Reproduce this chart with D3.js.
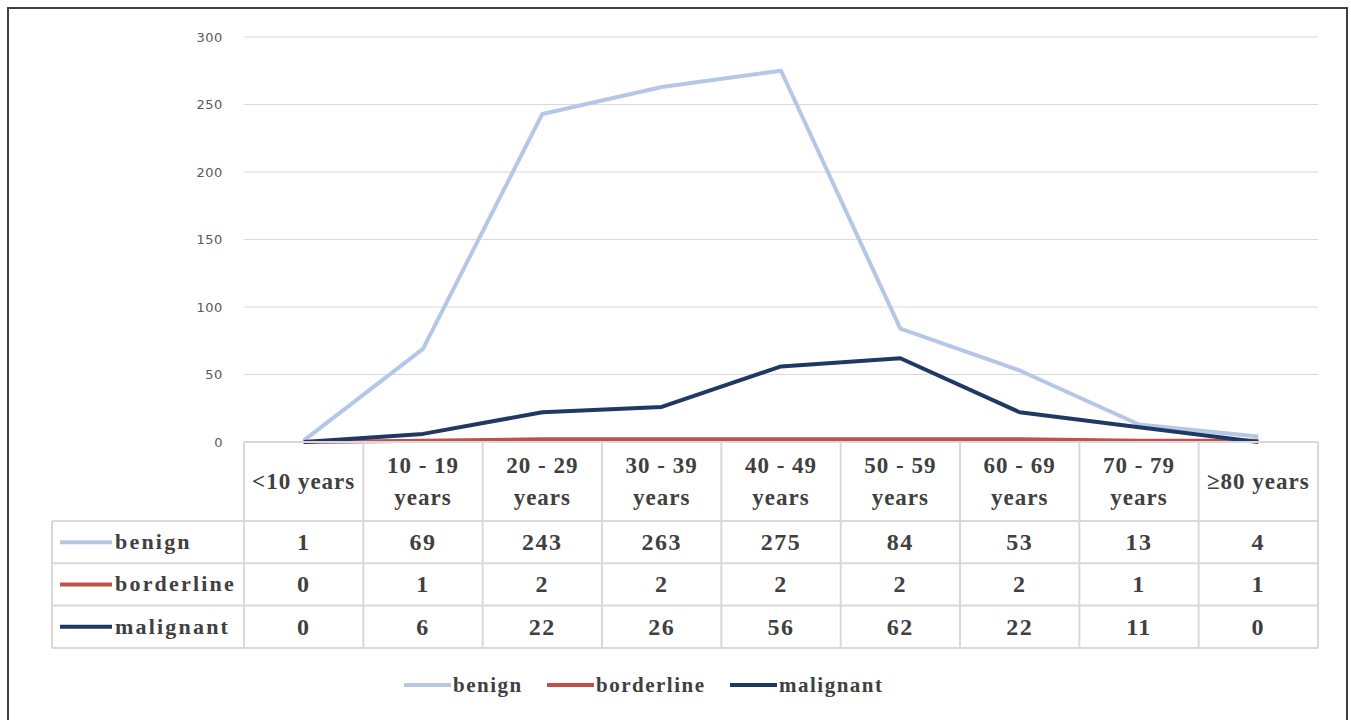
<!DOCTYPE html>
<html>
<head>
<meta charset="utf-8">
<script src="https://cdn.jsdelivr.net/npm/d3@7"></script>
<style>
  html, body { margin: 0; padding: 0; background: #fff; }
  svg { display: block; }
</style>
</head>
<body>
<svg id="chart" width="1351" height="720"></svg>
<script>
// Age groups (two-line header labels in the data table)
const categories = ["<10 years", "10 - 19 years", "20 - 29 years", "30 - 39 years", "40 - 49 years",
                    "50 - 59 years", "60 - 69 years", "70 - 79 years", "\u226580 years"];
const headerLines = [["<10 years"], ["10 - 19", "years"], ["20 - 29", "years"], ["30 - 39", "years"],
                     ["40 - 49", "years"], ["50 - 59", "years"], ["60 - 69", "years"], ["70 - 79", "years"],
                     ["\u226580 years"]];
const seriesNames = ["benign", "borderline", "malignant"];
const benign = [1, 69, 243, 263, 275, 84, 53, 13, 4];
const borderline = [0, 1, 2, 2, 2, 2, 2, 1, 1];
const malignant = [0, 6, 22, 26, 56, 62, 22, 11, 0];
const seriesColors = ["#b4c7e7", "#c0504d", "#203864"];
const yTicks = [0, 50, 100, 150, 200, 250, 300];

const seriesValues = [benign, borderline, malignant];

const svg = d3.select("#chart");

// Frame around the whole chart
svg.append("path")
  .attr("d", "M8,725 L8,8 L1347,8 L1347,725")
  .attr("fill", "none").attr("stroke", "#3f3f3f").attr("stroke-width", 2);

const plotLeft = 244, plotRight = 1318, plotTop = 37, plotBottom = 442;

const x = d3.scaleBand().domain(categories).range([plotLeft, plotRight]).padding(0);
const y = d3.scaleLinear().domain([0, 300]).range([plotBottom, plotTop]);

// Horizontal gridlines
svg.append("g").selectAll("line").data(yTicks).join("line")
  .attr("x1", plotLeft).attr("x2", plotRight)
  .attr("y1", d => y(d)).attr("y2", d => y(d))
  .attr("stroke", "#d9d9d9").attr("stroke-width", 1);

// Y axis labels
const yAxis = d3.axisLeft(y).tickValues(yTicks).tickSize(0).tickPadding(21);
const yg = svg.append("g").attr("transform", `translate(${plotLeft},0)`).call(yAxis);
yg.select(".domain").remove();
yg.selectAll("text")
  .attr("font-family", "'DejaVu Sans', sans-serif")
  .attr("font-size", 13)
  .attr("letter-spacing", 0.6)
  .attr("fill", "#595959");

// Series lines
const line = d3.line()
  .x((d, i) => x(categories[i]) + x.bandwidth() / 2)
  .y(d => y(d));

seriesValues.forEach((vals, si) => {
  svg.append("path")
    .datum(vals)
    .attr("d", line)
    .attr("fill", "none")
    .attr("stroke", seriesColors[si])
    .attr("stroke-width", 4)
    .attr("stroke-linejoin", "round");
});

// Data table under the plot
const tableLeft = 52;
const headerTop = plotBottom, headerBottom = 521;
const rowH = 42.3;
const tableBottom = headerBottom + rowH * 3;
const gridColor = "#d9d9d9";
const tg = svg.append("g");
const tableFont = "'Liberation Serif', 'DejaVu Serif', serif";
const textColor = "#404040";

// Vertical lines of the table
const colEdges = categories.map(c => x(c)).concat([plotRight]);
colEdges.forEach(cx => {
  tg.append("line").attr("x1", cx).attr("x2", cx).attr("y1", headerTop).attr("y2", tableBottom)
    .attr("stroke", gridColor).attr("stroke-width", 2);
});
tg.append("line").attr("x1", tableLeft).attr("x2", tableLeft).attr("y1", headerBottom).attr("y2", tableBottom)
  .attr("stroke", gridColor).attr("stroke-width", 2);
// Horizontal lines of the table
tg.append("line").attr("x1", plotLeft).attr("x2", plotRight).attr("y1", headerTop).attr("y2", headerTop)
  .attr("stroke", gridColor).attr("stroke-width", 2);
[0, 1, 2, 3].forEach(r => {
  const ly = headerBottom + r * rowH;
  tg.append("line").attr("x1", tableLeft).attr("x2", plotRight).attr("y1", ly).attr("y2", ly)
    .attr("stroke", gridColor).attr("stroke-width", 2);
});

// Header labels
categories.forEach((c, i) => {
  const cx = x(c) + x.bandwidth() / 2;
  const lines = headerLines[i];
  const mid = (headerTop + headerBottom) / 2;
  const t = tg.append("text")
    .attr("x", cx)
    .attr("text-anchor", "middle")
    .attr("font-family", tableFont)
    .attr("font-weight", "bold")
    .attr("font-size", 23)
    .attr("letter-spacing", 1)
    .attr("fill", textColor);
  lines.forEach((ln, li) => {
    t.append("tspan")
      .attr("x", cx)
      .attr("y", mid + 7 + (li - (lines.length - 1) / 2) * 32)
      .text(ln);
  });
});

// Rows: legend key + series name + values
seriesNames.forEach((name, si) => {
  const rowMid = headerBottom + rowH * si + rowH / 2;
  tg.append("line")
    .attr("x1", 60).attr("x2", 112).attr("y1", rowMid).attr("y2", rowMid)
    .attr("stroke", seriesColors[si]).attr("stroke-width", 4);
  tg.append("text")
    .attr("x", 115).attr("y", rowMid + 7)
    .attr("font-family", tableFont).attr("font-weight", "bold")
    .attr("font-size", 22).attr("letter-spacing", 2.2)
    .attr("fill", textColor)
    .text(name);
  seriesValues[si].forEach((v, ci) => {
    tg.append("text")
      .attr("x", x(categories[ci]) + x.bandwidth() / 2)
      .attr("y", rowMid + 8)
      .attr("text-anchor", "middle")
      .attr("font-family", tableFont).attr("font-weight", "bold")
      .attr("font-size", 24).attr("letter-spacing", 1.5)
      .attr("fill", textColor)
      .text(v);
  });
});

// Legend at the bottom
const legendY = 685;
const legendX = [404, 547, 730];
const lg = svg.append("g");
seriesNames.forEach((name, si) => {
  lg.append("line")
    .attr("x1", legendX[si]).attr("x2", legendX[si] + 47)
    .attr("y1", legendY).attr("y2", legendY)
    .attr("stroke", seriesColors[si]).attr("stroke-width", 4);
  lg.append("text")
    .attr("x", legendX[si] + 49).attr("y", legendY + 7)
    .attr("font-family", tableFont).attr("font-weight", "bold")
    .attr("font-size", 21).attr("letter-spacing", 1.5)
    .attr("fill", textColor)
    .text(name);
});
</script>
</body>
</html>
